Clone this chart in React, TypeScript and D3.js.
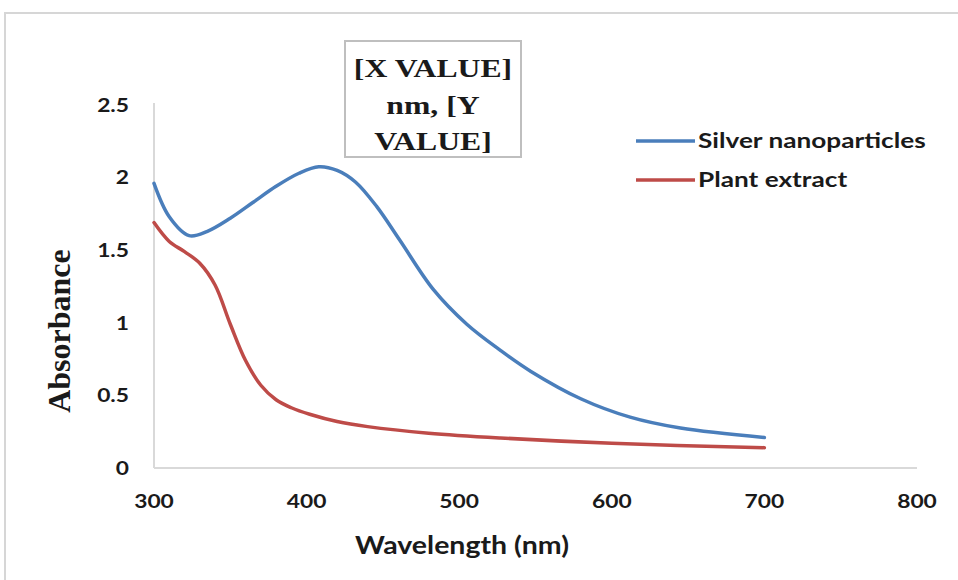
import React from 'react'
import * as d3 from 'd3'

// wavelength (nm) / absorbance
const silverX = [300, 310, 323, 335, 350, 365, 380, 395, 408, 420, 432, 446, 461, 483, 505, 527, 547, 580, 612, 645, 700]
const silverY = [1.96, 1.73, 1.6, 1.63, 1.72, 1.83, 1.94, 2.03, 2.075, 2.05, 1.97, 1.8, 1.57, 1.23, 0.99, 0.81, 0.665, 0.475, 0.35, 0.275, 0.21]

const plantX = [300, 310, 320, 330, 340, 350, 360, 370, 380, 390, 402, 420, 440, 480, 527, 600, 700]
const plantY = [1.69, 1.56, 1.49, 1.41, 1.26, 0.99, 0.74, 0.57, 0.47, 0.415, 0.37, 0.32, 0.285, 0.24, 0.207, 0.17, 0.14]

const xTicks = [300, 400, 500, 600, 700, 800]
const yTicks = [0, 0.5, 1, 1.5, 2, 2.5]

const seriesNames = ['Silver nanoparticles', 'Plant extract']
const seriesColors = ['#4a7ebb', '#be4b48']
const labelLines = ['[X VALUE]', 'nm, [Y', 'VALUE]']

const W = 958
const H = 580
const left = 154
const right = 917
const top = 105
const bottom = 468

const sans = 'Lato, "Open Sans", sans-serif'
const serif = '"Liberation Serif", "Times New Roman", serif'
// the source image is stretched sideways, so text gets a horizontal scale
const SX = 1.2

type STextProps = {
  x: number
  y: number
  sx?: number
  anchor?: 'start' | 'middle' | 'end'
  dy?: string
  family: string
  size: number
  weight?: number
  children: React.ReactNode
}

function SText({ x, y, sx = SX, anchor = 'start', dy, family, size, weight = 700, children }: STextProps) {
  return (
    <text transform={`translate(${x},${y}) scale(${sx},1)`} textAnchor={anchor} dy={dy}
      fontFamily={family} fontSize={size} fontWeight={weight} fill="#1a1a1a">
      {children}
    </text>
  )
}

export default function App() {
  const x = d3.scaleLinear().domain([300, 800]).range([left, right])
  const y = d3.scaleLinear().domain([0, 2.5]).range([bottom, top])

  const line = d3.line<[number, number]>()
    .x((d) => x(d[0]))
    .y((d) => y(d[1]))
    .curve(d3.curveCatmullRom.alpha(0.5))

  const series = [
    silverX.map((v, i) => [v, silverY[i]] as [number, number]),
    plantX.map((v, i) => [v, plantY[i]] as [number, number]),
  ]

  return (
    <svg width={W} height={H} style={{ position: 'absolute', left: 0, top: 0, background: '#fff' }}>
      {/* outer chart frame, only top/left edges fall inside the crop */}
      <path d={`M5,${H + 5} L5,13 L${W + 5},13`} fill="none" stroke="#d6d6d6" strokeWidth={2} />

      {/* axes */}
      <line x1={left} x2={left} y1={y(2.5) - 2} y2={bottom} stroke="#d9d9d9" strokeWidth={2} />
      <line x1={left} x2={right} y1={bottom} y2={bottom} stroke="#d9d9d9" strokeWidth={2} />

      {yTicks.map((t) => (
        <SText key={t} x={129} y={y(t)} dy="0.36em" anchor="end" family={sans} size={19}>{t}</SText>
      ))}
      {xTicks.map((t) => (
        <SText key={t} x={x(t)} y={bottom + 40} anchor="middle" family={sans} size={19}>{t}</SText>
      ))}

      <SText x={462} y={554} sx={1.14} anchor="middle" family={sans} size={25}>Wavelength (nm)</SText>
      <text transform={`translate(70,331) rotate(-90)`} textAnchor="middle"
        fontFamily={serif} fontWeight={700} fontSize={32} fill="#1a1a1a">Absorbance</text>

      {series.map((s, i) => (
        <path key={i} d={line(s) ?? ''} fill="none" stroke={seriesColors[i]} strokeWidth={3.5} strokeLinecap="round" />
      ))}

      {/* data label box */}
      <rect x={345} y={41} width={176} height={116} fill="#fff" stroke="#bfbfbf" strokeWidth={2} />
      {labelLines.map((l, i) => (
        <SText key={l} x={433} y={77 + i * 36.5} sx={1.22} anchor="middle" family={serif} size={26}>{l}</SText>
      ))}

      {/* legend */}
      {seriesNames.map((n, i) => (
        <g key={n} transform={`translate(636,${141 + i * 39})`}>
          <line x1={0} x2={59} y1={0} y2={0} stroke={seriesColors[i]} strokeWidth={3.5} />
          <SText x={62} y={0} dy="0.36em" sx={1.31} family={sans} size={20}>{n}</SText>
        </g>
      ))}
    </svg>
  )
}
